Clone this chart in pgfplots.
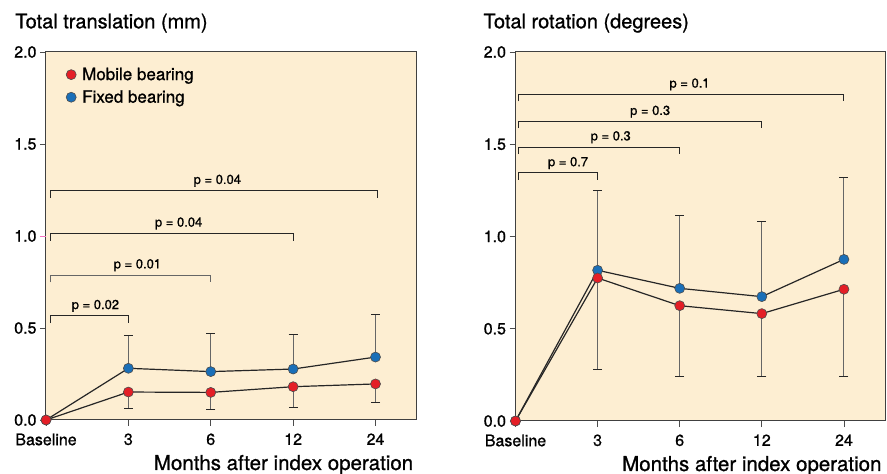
\documentclass[border=0pt]{standalone}
\usepackage{fontspec}
\setmainfont{TeX Gyre Heros}[FakeBold=0.9]
\usepackage{pgfplots}
\pgfplotsset{compat=1.18}

\definecolor{panel}{RGB}{253,238,210}
\definecolor{mobred}{RGB}{228,30,38}
\definecolor{fixblue}{RGB}{26,111,184}

\tikzset{plab/.style={anchor=base, font=\fontsize{13}{15}\selectfont}}

\pgfplotsset{
  kneeaxis/.style={
    scale only axis,
    xmin=0, xmax=4.5, ymin=0, ymax=2,
    xtick={0,1,2,3,4}, xticklabels={Baseline,3,6,12,24},
    ytick={0,0.5,1,1.5,2},
    xtick pos=lower, ytick pos=left, tick align=outside,
    major tick length=6pt,
    tick style={black!70, line width=0.8pt},
    axis line style={black!75, line width=1pt},
    axis background/.style={fill=panel},
    clip=false,
    ticklabel style={font=\fontsize{16}{18}\selectfont},
    /pgf/number format/assume math mode=true,
    yticklabel style={/pgf/number format/.cd, fixed, fixed zerofill, precision=1},
    xticklabel style={yshift=-4pt},
    xlabel={Months after index operation},
    xlabel style={at={(rel axis cs:1,0)}, anchor=base east, yshift=-50pt,
      font=\fontsize{20.5}{22}\selectfont},
  },
  errbar/.style={draw=none, mark=none, forget plot,
    error bars/.cd, y dir=#1, y explicit,
    error bar style={black!60, line width=0.9pt},
    error mark options={rotate=90, black!85, mark size=4.5pt, line width=0.9pt}},
  series/.style={black!85, line width=1.2pt, forget plot, mark=*, mark size=5pt,
    mark options={fill=#1, draw=black!70, line width=0.6pt}},
  bracket/.style={black!85, line width=0.9pt, mark=none, forget plot},
}

\begin{document}
\begin{tikzpicture}[x=1pt,y=1pt]
\useasboundingbox (0,0) rectangle (887,474);

% ---- left panel: translation
\begin{axis}[kneeaxis, at={(46pt,54pt)}, anchor=south west,
  width=370.7pt, height=368pt,
  ytick={0,0.5,1.5,2},
  extra y ticks={1},
  extra y tick style={tick style={magenta!55, line width=0.8pt}},
  legend image code/.code={\draw[#1] plot coordinates {(0pt,0pt)};},
  legend style={at={(rel axis cs:0,1)}, anchor=north west, xshift=20pt, yshift=-13.5pt,
    draw=none, fill=none, inner sep=0pt, row sep=4.7pt, column sep=4pt,
    font=\fontsize{17}{19}\selectfont},
  legend cell align=left]

\addplot[errbar=plus] coordinates {
  (1,0.281) +- (0,0.177)
  (2,0.263) +- (0,0.208)
  (3,0.277) +- (0,0.189)
  (4,0.342) +- (0,0.234)
};
\addplot[errbar=minus] coordinates {
  (1,0.152) +- (0,0.089)
  (2,0.150) +- (0,0.092)
  (3,0.181) +- (0,0.114)
  (4,0.196) +- (0,0.102)
};
% fixed bearing
\addplot[series=fixblue] coordinates {(0,0) (1,0.281) (2,0.263) (3,0.277) (4,0.342)};
% mobile bearing
\addplot[series=mobred] coordinates {(0,0) (1,0.152) (2,0.150) (3,0.181) (4,0.196)};

% significance brackets
\addplot[bracket] coordinates {(0.05,0.527) (0.05,0.567) (1,0.567) (1,0.527)};
\addplot[bracket, black!60] coordinates {(0.05,0.748) (0.05,0.786) (2,0.786) (2,0.748)};
\addplot[bracket] coordinates {(0.05,0.975) (0.05,1.015) (3,1.015) (3,0.975)};
\addplot[bracket] coordinates {(0.05,1.208) (0.05,1.248) (4.02,1.248) (4.02,1.208)};
\node[plab] at (axis cs:0.60,0.603) {p = 0.02};
\node[plab] at (axis cs:1.11,0.824) {p = 0.01};
\node[plab] at (axis cs:1.61,1.051) {p = 0.04};
\node[plab] at (axis cs:2.08,1.283) {p = 0.04};

\addlegendimage{only marks, mark=*, mark size=5pt, mark options={fill=mobred, draw=black!70, line width=0.6pt}}
\addlegendentry{Mobile bearing}
\addlegendimage{only marks, mark=*, mark size=5pt, mark options={fill=fixblue, draw=black!70, line width=0.6pt}}
\addlegendentry{Fixed bearing}
\end{axis}

% ---- right panel: rotation
\begin{axis}[kneeaxis, at={(515.5pt,53pt)}, anchor=south west,
  width=369.5pt, height=369pt]

\addplot[errbar=plus] coordinates {
  (1,0.817) +- (0,0.430)
  (2,0.719) +- (0,0.394)
  (3,0.674) +- (0,0.406)
  (4,0.876) +- (0,0.443)
};
\addplot[errbar=minus] coordinates {
  (1,0.775) +- (0,0.493)
  (2,0.625) +- (0,0.383)
  (3,0.582) +- (0,0.340)
  (4,0.714) +- (0,0.472)
};
\addplot[series=fixblue] coordinates {(0,0) (1,0.817) (2,0.719) (3,0.674) (4,0.876)};
\addplot[series=mobred] coordinates {(0,0) (1,0.775) (2,0.625) (3,0.582) (4,0.714)};

\addplot[bracket] coordinates {(0.04,1.308) (0.04,1.346) (1,1.346) (1,1.308)};
\addplot[bracket] coordinates {(0.04,1.446) (0.04,1.485) (2,1.485) (2,1.446)};
\addplot[bracket] coordinates {(0.04,1.587) (0.04,1.624) (3,1.624) (3,1.587)};
\addplot[bracket] coordinates {(0.04,1.733) (0.04,1.772) (4,1.772) (4,1.733)};
\node[plab] at (axis cs:0.64,1.381) {p = 0.7};
\node[plab] at (axis cs:1.16,1.521) {p = 0.3};
\node[plab] at (axis cs:1.64,1.659) {p = 0.3};
\node[plab] at (axis cs:2.12,1.807) {p = 0.1};
\end{axis}

\node[anchor=base west, font=\fontsize{20}{22}\selectfont] at (11.7,445.7) {Total translation (mm)};
\node[anchor=base west, font=\fontsize{20}{22}\selectfont] at (480,445.7) {Total rotation (degrees)};
\end{tikzpicture}
\end{document}
